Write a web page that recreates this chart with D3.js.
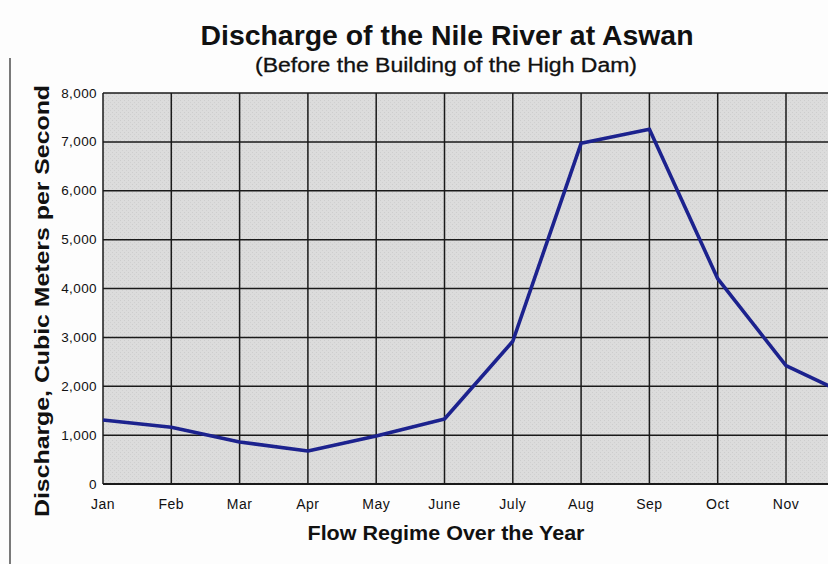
<!DOCTYPE html>
<html>
<head>
<meta charset="utf-8">
<script src="https://cdn.jsdelivr.net/npm/d3@7"></script>
<style>
  html, body { margin: 0; padding: 0; background: #fdfdfd; }
  svg { display: block; }
  text { font-family: "Liberation Sans", Arial, sans-serif; fill: #111; }
</style>
</head>
<body>
<div id="chart"></div>
<script>
const months = ["Jan","Feb","Mar","Apr","May","June","July","Aug","Sep","Oct","Nov","Dec"];
const discharge = [1310, 1160, 860, 675, 980, 1330, 2920, 6970, 7260, 4200, 2420, 1760];
const yTicks = [0, 1000, 2000, 3000, 4000, 5000, 6000, 7000, 8000];

const W = 828, H = 564;
const margin = { left: 103, top: 93, bottom: 484 };
const monthStep = 68.3;

const svg = d3.select("#chart").append("svg").attr("width", W).attr("height", H);

const defs = svg.append("defs");
const pat = defs.append("pattern").attr("id", "dots").attr("patternUnits", "userSpaceOnUse")
  .attr("width", 4).attr("height", 4);
pat.append("rect").attr("width", 4).attr("height", 4).attr("fill", "#dcdcdc");
pat.append("rect").attr("x", 0).attr("y", 0).attr("width", 1).attr("height", 1).attr("fill", "#cdcdcd");
pat.append("rect").attr("x", 2).attr("y", 2).attr("width", 1).attr("height", 1).attr("fill", "#d0d0d0");

const x = d3.scalePoint().domain(months).range([margin.left, margin.left + monthStep * 11]);
const y = d3.scaleLinear().domain([0, 8000]).range([margin.bottom, margin.top]);

const plotRight = margin.left + monthStep * 11 + 40;

// left frame line
svg.append("line").attr("x1", 10).attr("x2", 10).attr("y1", 58).attr("y2", H)
  .attr("stroke", "#222").attr("stroke-width", 1.2);

// plot background
svg.append("rect").attr("x", margin.left).attr("y", margin.top)
  .attr("width", plotRight - margin.left).attr("height", margin.bottom - margin.top)
  .attr("fill", "url(#dots)");

// horizontal grid
svg.append("g").selectAll("line").data(yTicks).join("line")
  .attr("x1", margin.left).attr("x2", plotRight)
  .attr("y1", d => y(d)).attr("y2", d => y(d))
  .attr("stroke", "#1a1a1a").attr("stroke-width", d => d === 0 ? 2 : 1.5);

// vertical grid
svg.append("g").selectAll("line").data(months).join("line")
  .attr("x1", d => x(d)).attr("x2", d => x(d))
  .attr("y1", margin.top).attr("y2", margin.bottom)
  .attr("stroke", "#1a1a1a").attr("stroke-width", 1.5);

// y tick labels
svg.append("g").selectAll("text").data(yTicks).join("text")
  .attr("x", 97).attr("y", d => y(d) + 1)
  .attr("text-anchor", "end").attr("dominant-baseline", "middle")
  .attr("font-size", 13.5).attr("letter-spacing", 0.4).text(d3.format(","));

// x tick labels (only those inside the visible frame)
svg.append("g").selectAll("text").data(months.filter(m => x(m) < W - 20)).join("text")
  .attr("x", d => x(d)).attr("y", 509)
  .attr("text-anchor", "middle").attr("font-size", 14).attr("letter-spacing", 0.5).text(d => d);

// line
const line = d3.line().x((d, i) => x(months[i])).y(d => y(d));
svg.append("path").datum(discharge)
  .attr("d", line).attr("fill", "none")
  .attr("stroke", "#1c228e").attr("stroke-width", 3.6)
  .attr("stroke-linejoin", "round");

// titles
svg.append("text").attr("x", 447).attr("y", 45).attr("text-anchor", "middle")
  .attr("font-size", 28).attr("font-weight", "bold")
  .attr("textLength", 493).attr("lengthAdjust", "spacingAndGlyphs")
  .text("Discharge of the Nile River at Aswan");
svg.append("text").attr("x", 446).attr("y", 72).attr("text-anchor", "middle")
  .attr("font-size", 19.5).attr("stroke", "#111").attr("stroke-width", 0.3)
  .attr("textLength", 382).attr("lengthAdjust", "spacingAndGlyphs")
  .text("(Before the Building of the High Dam)");

svg.append("text").attr("x", 446).attr("y", 540).attr("text-anchor", "middle")
  .attr("font-size", 20).attr("font-weight", "bold")
  .attr("textLength", 277).attr("lengthAdjust", "spacingAndGlyphs")
  .text("Flow Regime Over the Year");

svg.append("text")
  .attr("transform", "translate(49,301) rotate(-90)")
  .attr("text-anchor", "middle")
  .attr("font-size", 21).attr("font-weight", "bold")
  .attr("textLength", 432).attr("lengthAdjust", "spacingAndGlyphs")
  .text("Discharge, Cubic Meters per Second");
</script>
</body>
</html>
